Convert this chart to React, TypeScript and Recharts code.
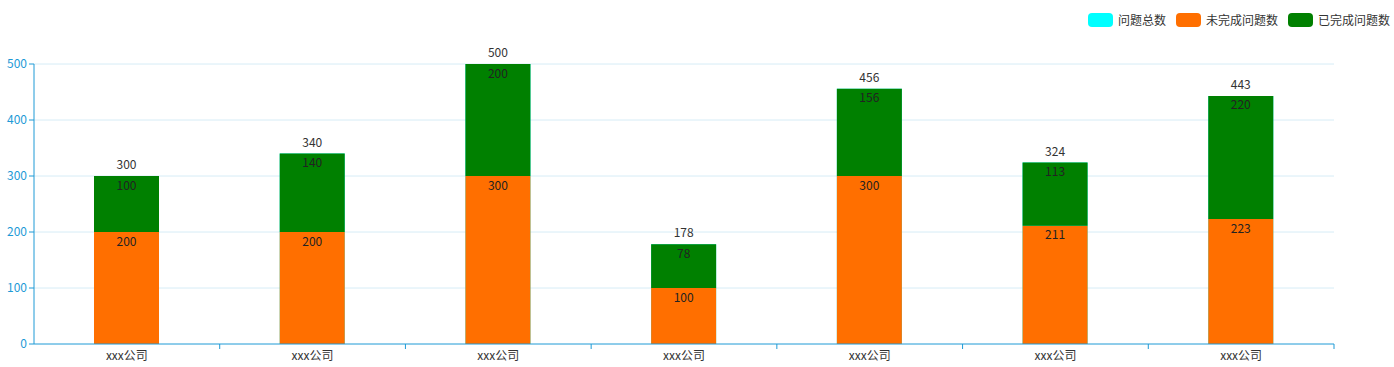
import { Bar, BarChart, CartesianGrid, LabelList, XAxis, YAxis } from "recharts";

const companies = ["xxx公司", "xxx公司", "xxx公司", "xxx公司", "xxx公司", "xxx公司", "xxx公司"];
const totalIssues = [300, 340, 500, 178, 456, 324, 443];
const openIssues = [200, 200, 300, 100, 300, 211, 223];
const doneIssues = [100, 140, 200, 78, 156, 113, 220];
const yTicks = [0, 100, 200, 300, 400, 500];
const seriesNames = ["问题总数", "未完成问题数", "已完成问题数"];
const seriesColors = ["#00ffff", "#ff6f00", "#008000"];

const data = companies.map((name, i) => ({
  name,
  total: totalIssues[i],
  open: openIssues[i],
  done: doneIssues[i],
}));

const W = 1394;
const H = 367;
const M = { top: 64, right: 60, left: 0, bottom: 0 };
const Y_W = 34;
const BAND = (W - M.left - M.right - Y_W) / companies.length;
const BLUE = "#1e9ad6";
const FONT = "'Microsoft YaHei', 'Noto Sans CJK SC', sans-serif";

function CompanyTick(props: any) {
  const { x, y, payload } = props;
  return (
    <g>
      <line x1={x + BAND / 2} x2={x + BAND / 2} y1={y} y2={y + 5} stroke={BLUE} />
      <text x={x} y={y + 16} textAnchor="middle" fill="#333" fontSize={12} fontFamily={FONT}>
        {payload.value}
      </text>
    </g>
  );
}

export default function App() {
  return (
    <div style={{ position: "absolute", left: 0, top: 0, width: W, height: H }}>
      <div
        style={{
          position: "absolute",
          top: 12,
          right: 4,
          display: "flex",
          fontFamily: FONT,
          fontSize: 12,
          color: "#333",
          lineHeight: "16px",
        }}
      >
        {seriesNames.map((n, i) => (
          <div key={n} style={{ display: "flex", alignItems: "center", marginLeft: 10 }}>
            <span style={{ width: 25, height: 14, borderRadius: 4, background: seriesColors[i], marginRight: 5 }} />
            {n}
          </div>
        ))}
      </div>
      <BarChart width={W} height={H} data={data} margin={M}>
        <CartesianGrid vertical={false} stroke="#d6ecf6" horizontalValues={[100, 200, 300, 400, 500]} />
        <XAxis xAxisId="total" dataKey="name" hide />
        <XAxis
          xAxisId="stack"
          dataKey="name"
          height={23}
          axisLine={{ stroke: BLUE }}
          tickLine={false}
          tickSize={0}
          tickMargin={0}
          tick={<CompanyTick />}
          interval={0}
        />
        <YAxis
          width={Y_W}
          domain={[0, 500]}
          ticks={yTicks}
          axisLine={{ stroke: BLUE }}
          tickLine={{ stroke: BLUE }}
          tickSize={5}
          tick={{ fill: BLUE, fontSize: 12, fontFamily: FONT }}
        />
        <Bar xAxisId="total" dataKey="total" name={seriesNames[0]} fill={seriesColors[0]} barSize={65} isAnimationActive={false}>
          <LabelList dataKey="total" position="top" offset={7} fill="#333" fontSize={12} fontFamily={FONT} />
        </Bar>
        <Bar xAxisId="stack" dataKey="open" name={seriesNames[1]} stackId="s" fill={seriesColors[1]} barSize={65} isAnimationActive={false}>
          <LabelList dataKey="open" position="insideTop" offset={5} fill="#222" fontSize={12} fontFamily={FONT} />
        </Bar>
        <Bar xAxisId="stack" dataKey="done" name={seriesNames[2]} stackId="s" fill={seriesColors[2]} barSize={65} isAnimationActive={false}>
          <LabelList dataKey="done" position="insideTop" offset={5} fill="#222" fontSize={12} fontFamily={FONT} />
        </Bar>
      </BarChart>
    </div>
  );
}
